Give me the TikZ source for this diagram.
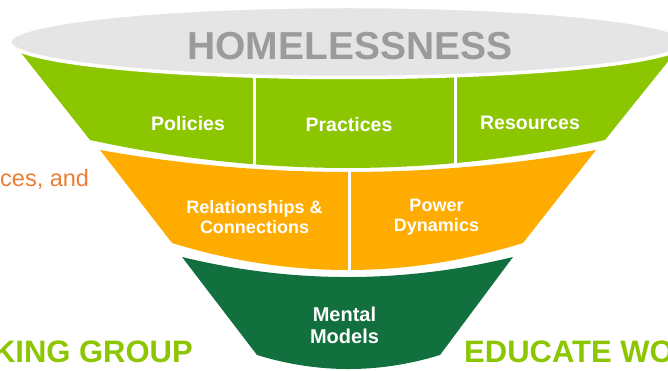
\documentclass[tikz,border=0pt]{standalone}
\usepackage{fontspec}
\setmainfont{Liberation Sans}

\definecolor{limegreen}{RGB}{140,198,0}
\definecolor{amber}{RGB}{255,172,0}
\definecolor{forest}{RGB}{17,112,61}
\definecolor{rimgray}{RGB}{229,229,229}
\definecolor{wordgray}{RGB}{155,155,155}
\definecolor{rust}{RGB}{237,125,49}

\begin{document}
\begin{tikzpicture}[
  x=1pt, y=-1pt,
  every node/.style={inner sep=0pt}
]
\tikzstyle{divider}=[draw=white, line width=3pt]
\tikzstyle{rim}=[fill=rimgray, draw=white, line width=3.5pt]
\tikzstyle{tier1}=[text=white, font=\bfseries\fontsize{19.5}{22}\selectfont]
\tikzstyle{tier2}=[text=white, font=\bfseries\fontsize{18}{19.5}\selectfont, align=center]
\tikzstyle{tier3}=[text=white, font=\bfseries\fontsize{20}{22}\selectfont, align=center]
\tikzstyle{banner}=[text=limegreen, font=\bfseries\fontsize{31}{31}\selectfont]

\useasboundingbox (0,0) rectangle (668,371);
\clip (0,0) rectangle (668,371);

\fill[limegreen] (18,49) .. controls (238,85) and (458,85) .. (678,49)
  -- (605,140) .. controls (433.3,177.3) and (261.7,177.3) .. (90,140) -- cycle;
\fill[amber] (100,150) .. controls (265.3,179.3) and (430.7,179.3) .. (596,150)
  -- (523,243) .. controls (406,279) and (289,279) .. (172,243) -- cycle;
\fill[forest] (182,257) .. controls (292.3,283.7) and (402.7,283.7) .. (513,257)
  -- (440,355) .. controls (379,373.7) and (318,373.7) .. (257,355) -- cycle;

\draw[divider] (254,60) -- (254,166);
\draw[divider] (455,60) -- (455,165);
\draw[divider] (349,170) -- (349,274);

\filldraw[rim] (348,42) ellipse[x radius=338.5, y radius=35.5];

\node[text=wordgray, font=\bfseries\fontsize{39}{39}\selectfont] (homeless) at (350,46) {HOMELESSNESS};

\node[tier1, anchor=base] (policies) at (188,131) {Policies};
\node[tier1, anchor=base] (practices) at (349,132) {Practices};
\node[tier1, anchor=base] (resources) at (530,130) {Resources};

\node[tier2] (relations) at (254.5,217) {Relationships \&\\Connections};
\node[tier2] (power) at (436.5,217) {Power\\Dynamics};

\node[tier3] (mental) at (344.5,325) {Mental\\Models};

\node[text=rust, font=\fontsize{23.5}{26}\selectfont, anchor=base west] (leftnote) at (0,187) {ces, and};
\node[banner, anchor=base east] (kinggroup) at (193,362) {KING GROUP};
\node[banner, anchor=base west] (educate) at (464,362) {EDUCATE WO};
\end{tikzpicture}
\end{document}
